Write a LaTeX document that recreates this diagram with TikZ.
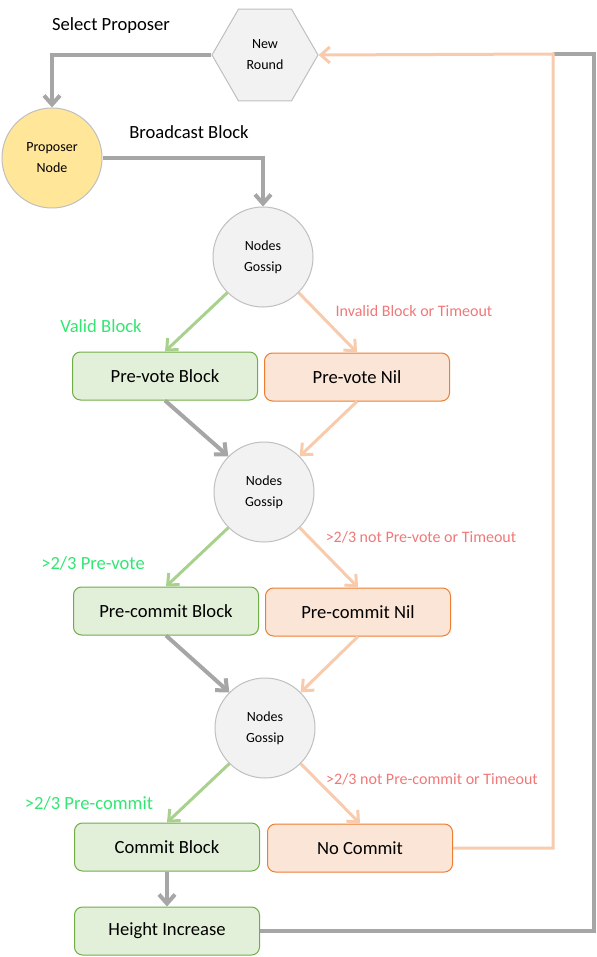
\documentclass[tikz,border=0pt]{standalone}
\usepackage{fontspec}
\setmainfont{Carlito}
\usepackage{tikz}
\usetikzlibrary{arrows.meta}
\usetikzlibrary{positioning}
\usetikzlibrary{shapes.geometric}
\definecolor{flowgrey}{HTML}{A6A6A6}
\definecolor{floworange}{HTML}{F8CBAD}
\definecolor{flowgreen}{HTML}{A9D18E}
\definecolor{boxgreen}{HTML}{E2F0D9}
\definecolor{edgegreen}{HTML}{70AD47}
\definecolor{boxorange}{HTML}{FBE5D6}
\definecolor{edgeorange}{HTML}{ED7D31}
\definecolor{nodegrey}{HTML}{F2F2F2}
\definecolor{rimgrey}{HTML}{BFBFBF}
\definecolor{propyellow}{HTML}{FFE699}
\definecolor{txtgreen}{HTML}{33E673}
\definecolor{txtred}{HTML}{F07878}
\tikzset{
  statebox/.style = {rectangle, rounded corners=4pt, line width=0.5pt,
    minimum width=92.5pt, minimum height=24pt, font=\fontsize{9.3}{11}\selectfont},
  okbox/.style = {statebox, draw=edgegreen, fill=boxgreen},% bloc valide
  nilbox/.style = {statebox, draw=edgeorange, fill=boxorange},% bloc nil
  gossip/.style = {circle, draw=rimgrey, fill=nodegrey, line width=0.5pt,
    minimum size=50pt, inner sep=0pt, align=center,
    font=\fontsize{7}{10.5}\selectfont},
  flowlab/.style = {inner sep=0pt, font=\fontsize{9.3}{11}\selectfont},
  oklab/.style = {inner sep=0pt, text=txtgreen, font=\fontsize{9.3}{11}\selectfont},
  nillab/.style = {inner sep=0pt, text=txtred, font=\fontsize{8}{10}\selectfont},
  tip/.style = {-{Straight Barb[length=4.5pt,width=8pt]}},
  greyflow/.style = {tip, draw=flowgrey, line width=2pt},
  okflow/.style = {tip, draw=flowgreen, line width=1.5pt},
  nilflow/.style = {tip, draw=floworange, line width=1.5pt}
}
\begin{document}
\begin{tikzpicture}[x=0.5pt,y=-0.5pt]
\useasboundingbox (0,0) rectangle (596,957);
\node [regular polygon, regular polygon sides=6, draw=rimgrey, fill=nodegrey,
  line width=0.5pt, minimum size=53pt, inner sep=0pt, align=center,
  font=\fontsize{7}{10.5}\selectfont] (round) at (265,55) {New\\Round};
\node [gossip, fill=propyellow] (prop) at (52,158) {Proposer\\Node};
\node [gossip] (g1) at (263,257) {Nodes\\Gossip};
\node [okbox] (pvb) at (165,376) {Pre-vote Block};
\node [nilbox] (pvn) at (357,377) {Pre-vote Nil};
\node [gossip] (g2) at (264,492) {Nodes\\Gossip};
\node [okbox] (pcb) at (166,611) {Pre-commit Block};
\node [nilbox] (pcn) at (358,612) {Pre-commit Nil};
\node [gossip] (g3) at (265,728) {Nodes\\Gossip};
\node [okbox] (cb) at (167,847) {Commit Block};
\node [nilbox] (nc) at (360,848) {No Commit};
\node [okbox] (hi) at (167,931) {Height Increase};

% textes
\node [flowlab] (sel) at (111,26) {Select Proposer};
\node [flowlab] (bcast) at (189,132) {Broadcast Block};
\node [oklab] (lvalid) at (101,326) {Valid Block};
\node [nillab] (linv) at (414,311) {Invalid Block or Timeout};
\node [oklab] (lpv) at (93,563) {>2/3 Pre-vote};
\node [nillab] (lnpv) at (421,537) {>2/3 not Pre-vote or Timeout};
\node [oklab] (lpc) at (89,803) {>2/3 Pre-commit};
\node [nillab] (lnpc) at (432,779) {>2/3 not Pre-commit or Timeout};

\coordinate (rgrey) at (594,54);
\coordinate (rorange) at (553,54);

\draw [greyflow] (round.west) -| (prop.north);
\draw [greyflow] (prop.east) -| (g1.north);
\draw [okflow] (g1.-135) -- (pvb.north);
\draw [nilflow] (g1.-45) -- (pvn.north);
\draw [greyflow] (pvb.south) -- (g2.135);
\draw [nilflow] (pvn.south) -- (g2.45);
\draw [okflow] (g2.-135) -- (pcb.north);
\draw [nilflow] (g2.-45) -- (pcn.north);
\draw [greyflow] (pcb.south) -- (g3.135);
\draw [nilflow] (pcn.south) -- (g3.45);
\draw [okflow] (g3.-135) -- (cb.north);
\draw [nilflow] (g3.-45) -- (nc.north);
\draw [greyflow] (cb.south) -- (hi.north);
\draw [draw=flowgrey, line width=2pt] (hi.east) -| (rgrey) -- (rorange);
\draw [nilflow] (nc.east) -| (rorange) -- (round.east);
\end{tikzpicture}
\end{document}
